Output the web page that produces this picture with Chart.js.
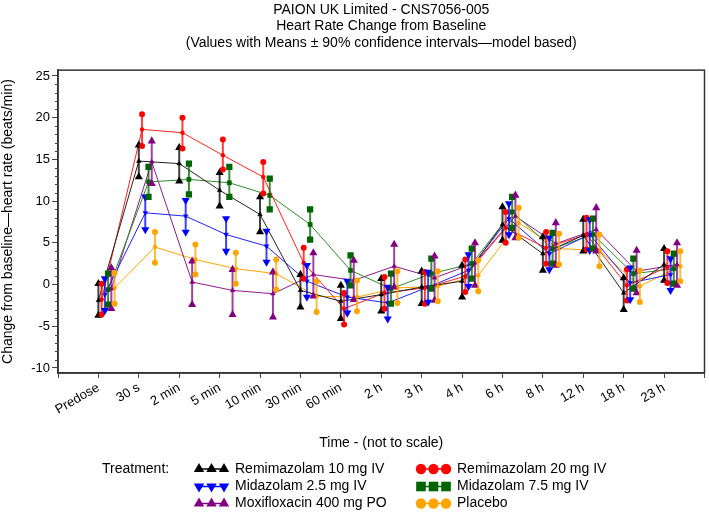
<!DOCTYPE html>
<html>
<head>
<meta charset="utf-8">
<script src="https://cdn.jsdelivr.net/npm/chart.js@4.4.0/dist/chart.umd.min.js"></script>
<style>
  html, body { margin: 0; padding: 0; background: #fff; }
  #wrap { width: 709px; height: 514px; }
</style>
</head>
<body>
<div id="wrap"><canvas id="hrChart" width="709" height="514"></canvas></div>
<script>
// === DATA ===
const categories = ['Predose', '30 s', '2 min', '5 min', '10 min', '30 min', '60 min', '2 h', '3 h', '4 h', '6 h', '8 h', '12 h', '18 h', '23 h'];
const yTickValues = [-10, -5, 0, 5, 10, 15, 20, 25];

const rem10Mean = [-1.9, 14.8, 14.5, 11.3, 8.4, -0.7, -2.0, -1.2, -0.3, 0.4, 7.2, 3.7, 5.9, -1.0, 2.4];
const rem10Lo   = [-3.7, 12.9, 12.4, 9.4, 6.3, -2.7, -4.1, -3.2, -2.3, -1.5, 5.3, 1.7, 4.0, -3.0, 0.5];
const rem10Hi   = [0.1, 16.7, 16.4, 13.4, 10.5, 1.2, -0.1, 0.7, 1.6, 2.3, 9.3, 5.7, 7.8, 0.8, 4.3];

const rem20Mean = [-1.8, 18.6, 18.2, 15.5, 12.9, 2.6, -2.9, -1.0, -0.4, 1.0, 6.8, 4.4, 6.0, -0.1, 2.1];
const rem20Lo   = [-3.6, 16.6, 16.3, 13.8, 10.9, 0.7, -4.8, -2.9, -2.3, -0.9, 5.0, 2.5, 4.2, -1.9, 0.2];
const rem20Hi   = [0.1, 20.4, 20.0, 17.4, 14.7, 4.4, -1.0, 0.9, 1.5, 3.0, 8.7, 6.3, 8.0, 1.8, 4.0];

const mid25Mean = [-1.2, 8.6, 8.2, 6.0, 4.6, 0.4, -1.5, -2.2, -0.3, 1.7, 7.9, 3.7, 6.0, 0.2, 1.2];
const mid25Lo   = [-3.1, 6.6, 6.3, 4.0, 2.7, -1.5, -3.4, -4.1, -2.1, -0.2, 6.0, 1.8, 4.1, -1.8, -0.7];
const mid25Hi   = [0.7, 10.5, 10.1, 7.9, 6.4, 2.3, 0.4, -0.3, 1.5, 3.6, 9.7, 5.6, 7.8, 2.0, 3.1];

const mid75Mean = [-0.6, 12.3, 12.6, 12.2, 10.7, 7.2, 1.7, -0.5, 1.3, 2.5, 8.7, 4.3, 6.0, 1.3, 1.9];
const mid75Lo   = [-2.4, 10.5, 10.8, 10.5, 9.0, 5.4, -0.1, -2.3, -0.5, 0.7, 6.8, 2.5, 4.3, -0.5, 0.1];
const mid75Hi   = [1.3, 14.1, 14.5, 14.1, 12.7, 9.0, 3.5, 1.3, 3.1, 4.3, 10.5, 6.2, 7.9, 3.1, 3.7];

const moxMean = [-0.5, 14.7, 0.3, -0.7, -1.1, 1.2, 0.5, 2.2, 0.8, 2.6, 8.2, 4.9, 6.6, 1.6, 2.4];
const moxLo   = [-2.9, 12.1, -2.4, -3.6, -3.9, -1.4, -1.8, -0.3, -1.9, -0.1, 5.6, 2.3, 4.0, -1.0, -0.1];
const moxHi   = [2.0, 17.2, 2.8, 1.8, 1.5, 3.8, 2.9, 4.8, 3.4, 5.0, 10.7, 7.4, 9.2, 4.1, 5.0];

const placMean = [-0.4, 4.5, 3.0, 1.9, 1.3, -1.4, -1.5, -0.4, -0.2, 1.1, 7.4, 4.3, 4.1, -0.2, 2.2];
const placLo   = [-2.3, 2.6, 1.2, 0.1, -0.6, -3.3, -3.2, -2.2, -2.0, -0.8, 5.6, 2.4, 2.2, -2.1, 0.4];
const placHi   = [1.4, 6.3, 4.8, 3.8, 3.0, 0.4, 0.5, 1.6, 1.6, 2.9, 9.2, 6.1, 6.0, 1.7, 4.0];

// series styling (order = horizontal offset order)
const series = [
  { label: 'Remimazolam 10 mg IV', color: '#000000', line: '#222222', style: 'triangle', rot: 0, mean: rem10Mean, lo: rem10Lo, hi: rem10Hi },
  { label: 'Remimazolam 20 mg IV', color: '#FF0000', line: '#FF2020', style: 'circle', rot: 0, mean: rem20Mean, lo: rem20Lo, hi: rem20Hi },
  { label: 'Midazolam 2.5 mg IV', color: '#0000FF', line: '#2020FF', style: 'triangle', rot: 180, mean: mid25Mean, lo: mid25Lo, hi: mid25Hi },
  { label: 'Midazolam 7.5 mg IV', color: '#006400', line: '#2E8B2E', style: 'rect', rot: 0, mean: mid75Mean, lo: mid75Lo, hi: mid75Hi },
  { label: 'Moxifloxacin 400 mg PO', color: '#800080', line: '#8B1A8B', style: 'triangle', rot: 0, mean: moxMean, lo: moxLo, hi: moxHi },
  { label: 'Placebo', color: '#FFA500', line: '#FFA500', style: 'circle', rot: 0, mean: placMean, lo: placLo, hi: placHi }
];
const offsetStep = 0.08;
const FONT = "'Liberation Sans', Arial, sans-serif";

// point radius per marker shape (plot / legend)
function markerSize(style, big) {
  if (style === 'rect') return big ? 6.8 : 3.0;
  if (style === 'triangle') return big ? 6.0 : 2.7;
  return big ? 5.2 : 2.0;
}

// === ERROR BARS ===
const errorBarPlugin = {
  id: 'errorBars',
  afterDatasetsDraw(chart) {
    const ctx = chart.ctx;
    const xs = chart.scales.x, ys = chart.scales.y;
    ctx.save();
    series.forEach((s, k) => {
      s.mean.forEach((m, i) => {
        const px = xs.getPixelForValue(i + 1 + k * offsetStep);
        const pLo = ys.getPixelForValue(s.lo[i]);
        const pHi = ys.getPixelForValue(s.hi[i]);
        ctx.globalAlpha = 0.75;
        ctx.strokeStyle = s.color;
        ctx.lineWidth = 2;
        ctx.beginPath();
        ctx.moveTo(px, pLo);
        ctx.lineTo(px, pHi);
        ctx.stroke();
        ctx.globalAlpha = 1;
        ctx.fillStyle = s.color;
        ctx.strokeStyle = s.color;
        const opt = { pointStyle: s.style, rotation: s.rot, radius: markerSize(s.style, false), borderWidth: 0.5 };
        Chart.helpers.drawPoint(ctx, opt, px, pLo);
        Chart.helpers.drawPoint(ctx, opt, px, pHi);
      });
    });
    ctx.restore();
  }
};

// === FRAME + MINOR TICKS ===
const framePlugin = {
  id: 'frame',
  afterDraw(chart) {
    const { ctx, chartArea: a } = chart;
    const ys = chart.scales.y;
    ctx.save();
    ctx.strokeStyle = '#333';
    ctx.lineWidth = 1.5;
    ctx.strokeRect(a.left, a.top, a.right - a.left, a.bottom - a.top);
    ctx.lineWidth = 1;
    ctx.strokeStyle = '#444';
    for (let v = -10; v <= 25; v++) {
      if (v % 5 === 0) continue;
      const py = Math.round(ys.getPixelForValue(v)) + 0.5;
      ctx.beginPath();
      ctx.moveTo(a.left - 3, py);
      ctx.lineTo(a.left, py);
      ctx.stroke();
    }
    ctx.restore();
  }
};

// === LEGEND ===
const legendPlugin = {
  id: 'treatLegend',
  afterDraw(chart) {
    const ctx = chart.ctx;
    const rows = [469, 486.5, 503.5];
    const cols = [{ sym: 199, text: 235 }, { sym: 421, text: 457 }];
    const order = [[0, 0, 0], [1, 1, 0], [2, 0, 1], [3, 1, 1], [4, 0, 2], [5, 1, 2]];
    ctx.save();
    ctx.font = '14px ' + FONT;
    ctx.fillStyle = '#000';
    ctx.textBaseline = 'middle';
    ctx.textAlign = 'left';
    ctx.fillText('Treatment:', 102, rows[0]);
    order.forEach(([k, c, r]) => {
      const s = series[k];
      const y = rows[r];
      const x0 = cols[c].sym;
      ctx.strokeStyle = s.color;
      ctx.lineWidth = 1.5;
      ctx.beginPath();
      ctx.moveTo(x0, y);
      ctx.lineTo(x0 + 25, y);
      ctx.stroke();
      ctx.fillStyle = s.color;
      const opt = { pointStyle: s.style, rotation: s.rot, radius: markerSize(s.style, true), borderWidth: 0 };
      for (let j = 0; j < 3; j++) {
        Chart.helpers.drawPoint(ctx, opt, x0 + j * 12.5, y);
      }
      ctx.fillStyle = '#000';
      ctx.fillText(s.label, cols[c].text, y);
    });
    ctx.restore();
  }
};

const datasets = series.map((s, k) => ({
  label: s.label,
  data: s.mean.map((m, i) => ({ x: i + 1 + k * offsetStep, y: m })),
  borderColor: s.line,
  backgroundColor: s.color,
  borderWidth: 1,
  pointStyle: s.style,
  pointRotation: s.rot,
  pointRadius: markerSize(s.style, false),
  pointBorderWidth: 0.5,
  pointBorderColor: s.color,
  pointBackgroundColor: s.color,
  tension: 0
}));

const ctx = document.getElementById('hrChart').getContext('2d');
new Chart(ctx, {
  type: 'line',
  data: { datasets: datasets },
  plugins: [errorBarPlugin, framePlugin, legendPlugin],
  options: {
    responsive: false,
    animation: false,
    devicePixelRatio: 1,
    layout: { padding: { left: 0, right: 2, top: 0, bottom: 62 } },
    plugins: {
      legend: { display: false },
      tooltip: { enabled: false },
      title: {
        display: true,
        fullSize: false,
        text: ['PAION UK Limited - CNS7056-005', 'Heart Rate Change from Baseline', '(Values with Means \u00B1 90% confidence intervals\u2014model based)'],
        color: '#000',
        font: { family: FONT, size: 14, weight: 'normal', lineHeight: 1.17 },
        padding: { top: 2, bottom: 19 }
      }
    },
    scales: {
      x: {
        type: 'linear',
        min: 0,
        max: 16,
        afterFit: (scale) => {
          scale.height = 79;
          scale.paddingLeft = 0;
          scale.paddingRight = 0;
        },
        afterBuildTicks: (scale) => {
          const t = [];
          for (let v = 0; v <= 16; v++) t.push({ value: v });
          scale.ticks = t;
        },
        ticks: {
          autoSkip: false,
          minRotation: 30,
          maxRotation: 30,
          color: '#000',
          font: { family: FONT, size: 13 },
          padding: 2,
          callback: (v) => categories[v - 1] || ''
        },
        grid: { drawOnChartArea: false, tickLength: 5, color: '#444' },
        border: { display: true, color: '#333', width: 1.5 },
        title: {
          display: true,
          text: 'Time - (not to scale)',
          color: '#000',
          font: { family: FONT, size: 14 },
          padding: { top: 0, bottom: 0 }
        }
      },
      y: {
        type: 'linear',
        min: -10.6,
        max: 25.7,
        afterFit: (scale) => { scale.width = 58; },
        afterBuildTicks: (scale) => { scale.ticks = yTickValues.map(v => ({ value: v })); },
        ticks: {
          color: '#000',
          font: { family: FONT, size: 13 },
          padding: 2
        },
        grid: { drawOnChartArea: false, tickLength: 6, color: '#444' },
        border: { display: true, color: '#333', width: 1.5 },
        title: {
          display: true,
          text: 'Change from baseline\u2014heart rate (beats/min)',
          color: '#000',
          font: { family: FONT, size: 14 },
          padding: { top: 0, bottom: 2 }
        }
      }
    }
  }
});
</script>
</body>
</html>
